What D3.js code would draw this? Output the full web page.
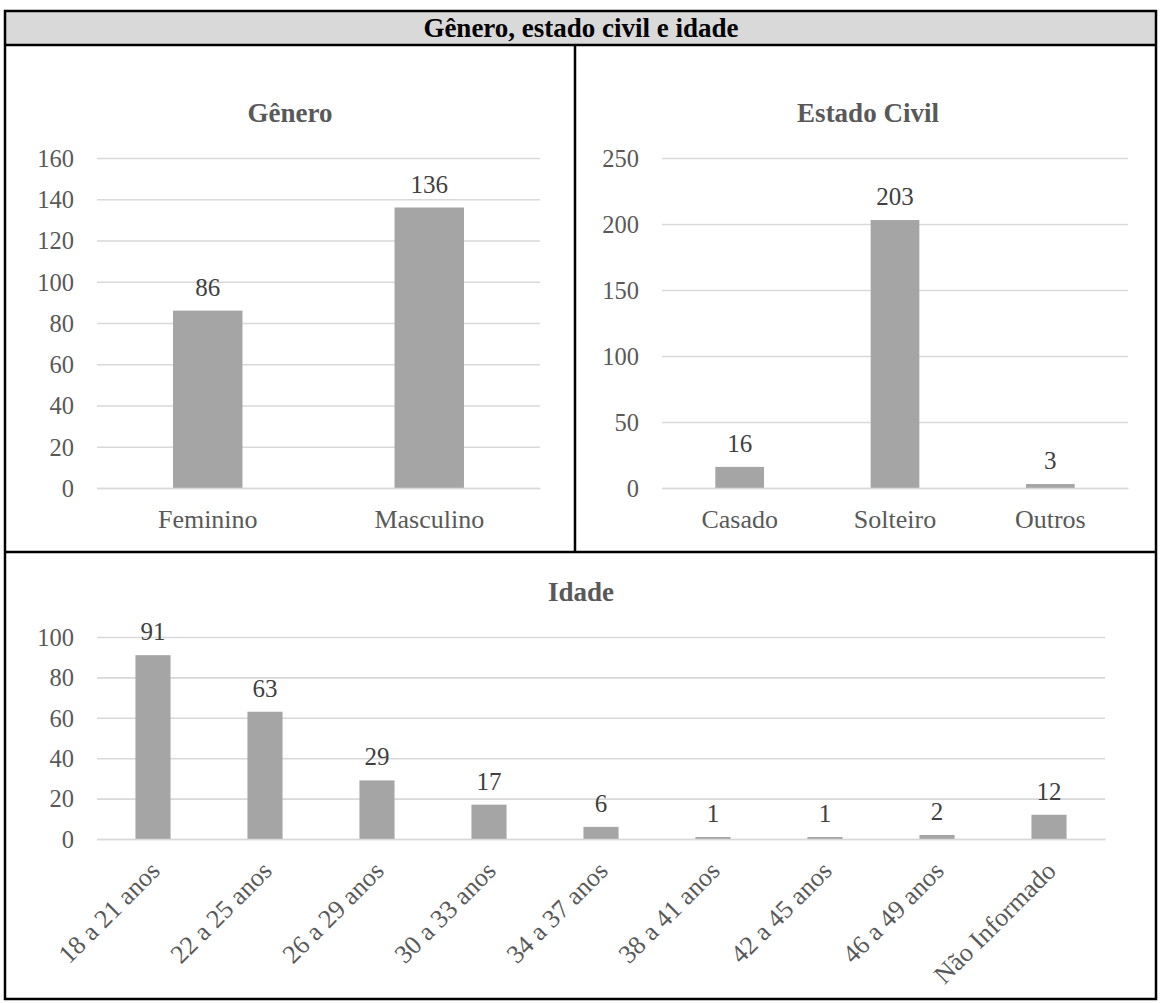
<!DOCTYPE html>
<html>
<head>
<meta charset="utf-8">
<script src="https://cdn.jsdelivr.net/npm/d3@7"></script>
<style>
  html, body { margin: 0; padding: 0; background: #fff; }
  svg { display: block; }
  text { font-family: "Liberation Serif", "Times New Roman", serif; }
</style>
</head>
<body>
<svg id="chart" width="1160" height="1003"></svg>
<script>
// Gênero
const generoCategories = ["Feminino", "Masculino"];
const generoValues = [86, 136];
const generoTicks = [0, 20, 40, 60, 80, 100, 120, 140, 160];

// Estado civil
const civilCategories = ["Casado", "Solteiro", "Outros"];
const civilValues = [16, 203, 3];
const civilTicks = [0, 50, 100, 150, 200, 250];

// Idade
const idadeCategories = ["18 a 21 anos", "22 a 25 anos", "26 a 29 anos", "30 a 33 anos",
  "34 a 37 anos", "38 a 41 anos", "42 a 45 anos", "46 a 49 anos", "Não Informado"];
const idadeValues = [91, 63, 29, 17, 6, 1, 1, 2, 12];
const idadeTicks = [0, 20, 40, 60, 80, 100];

const svg = d3.select("#chart");
const TEXT = "#595959", GRID = "#d9d9d9", BAR = "#a5a5a5";
const TICK_SIZE = 24.5, CAT_SIZE = 26, VALUE_SIZE = 25, TITLE_SIZE = 27;
// Excel-style gap width of 219%
const GAP = 2.19 / 3.19;

// Table header band
svg.append("rect").attr("x", 5).attr("y", 11).attr("width", 1151).attr("height", 34)
  .attr("fill", "#d9d9d9");
svg.append("text").attr("x", 581).attr("y", 37).attr("text-anchor", "middle")
  .attr("font-size", 27).attr("font-weight", "bold").attr("fill", "#000")
  .text("Gênero, estado civil e idade");

function barChart(opts) {
  const { cats, vals, ticks, x0, x1, y0, y1, title, titleX, titleY, rotate } = opts;
  const g = svg.append("g");
  const x = d3.scaleBand().domain(cats).range([x0, x1])
    .paddingInner(GAP).paddingOuter(GAP / 2);
  const y = d3.scaleLinear().domain([0, d3.max(ticks)]).range([y0, y1]);

  // gridlines + value axis labels
  const ax = g.append("g").attr("transform", `translate(${x0},0)`)
    .call(d3.axisLeft(y).tickValues(ticks).tickSize(-(x1 - x0)).tickPadding(23)
      .tickFormat(d3.format("d")));
  ax.select(".domain").remove();
  ax.selectAll(".tick line").attr("stroke", GRID).attr("stroke-width", 1.6);
  ax.selectAll(".tick text").attr("fill", TEXT).attr("font-size", TICK_SIZE)
    .attr("dy", "0.34em");

  // bars
  g.selectAll("rect.bar").data(vals).join("rect").attr("class", "bar")
    .attr("x", (d, i) => x(cats[i])).attr("width", x.bandwidth())
    .attr("y", d => y(d)).attr("height", d => y(0) - y(d))
    .attr("fill", BAR);

  // value labels
  g.selectAll("text.val").data(vals).join("text").attr("class", "val")
    .attr("x", (d, i) => x(cats[i]) + x.bandwidth() / 2)
    .attr("y", d => y(d) - 15)
    .attr("text-anchor", "middle").attr("font-size", VALUE_SIZE).attr("fill", "#404040")
    .text(d => d);

  // category labels
  const cx = g.append("g").attr("transform", `translate(0,${y0})`)
    .call(d3.axisBottom(x).tickSize(0).tickPadding(0));
  cx.select(".domain").attr("stroke", GRID).attr("stroke-width", 1.6);
  const lbl = cx.selectAll(".tick text").attr("fill", TEXT).attr("font-size", CAT_SIZE);
  if (rotate) {
    lbl.attr("text-anchor", "end").attr("dy", "0.35em")
      .attr("transform", "translate(2,27) rotate(-45)");
  } else {
    lbl.attr("dy", 0).attr("y", 40);
  }

  // title
  g.append("text").attr("x", titleX).attr("y", titleY).attr("text-anchor", "middle")
    .attr("font-size", TITLE_SIZE).attr("font-weight", "bold").attr("fill", TEXT)
    .text(title);
}

barChart({ cats: generoCategories, vals: generoValues, ticks: generoTicks,
  x0: 97, x1: 540, y0: 488, y1: 158, title: "Gênero", titleX: 290, titleY: 122 });
barChart({ cats: civilCategories, vals: civilValues, ticks: civilTicks,
  x0: 662, x1: 1128, y0: 488, y1: 158, title: "Estado Civil", titleX: 868, titleY: 122 });
barChart({ cats: idadeCategories, vals: idadeValues, ticks: idadeTicks,
  x0: 97, x1: 1105, y0: 839, y1: 637, title: "Idade", titleX: 581, titleY: 601, rotate: true });

// table borders drawn last
const frame = svg.append("g").attr("stroke", "#000").attr("stroke-width", 2.5).attr("fill", "none");
frame.append("rect").attr("x", 5).attr("y", 11).attr("width", 1151).attr("height", 988);
frame.append("line").attr("x1", 5).attr("x2", 1156).attr("y1", 45).attr("y2", 45);
frame.append("line").attr("x1", 5).attr("x2", 1156).attr("y1", 552).attr("y2", 552);
frame.append("line").attr("x1", 575).attr("x2", 575).attr("y1", 45).attr("y2", 552);
</script>
</body>
</html>
